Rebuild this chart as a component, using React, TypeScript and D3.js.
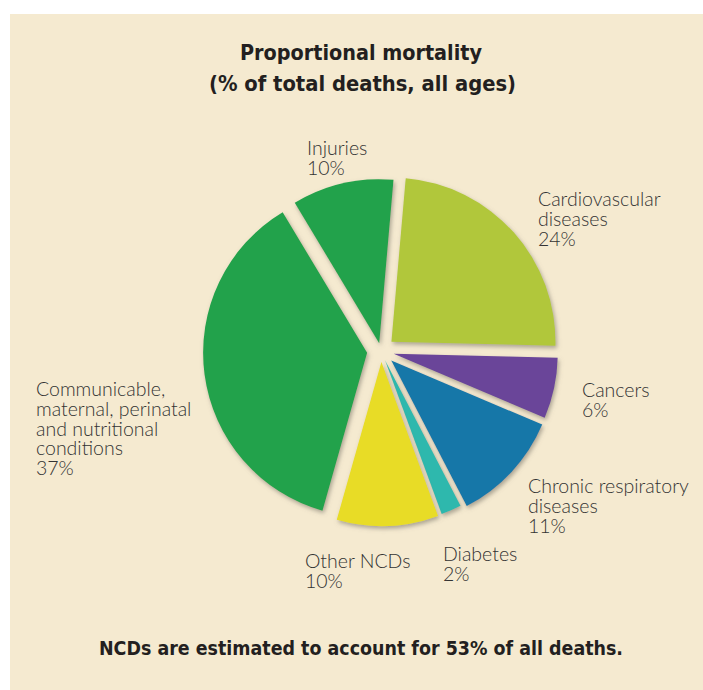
import React from "react";
import * as d3 from "d3";

const categories = [
  "Cardiovascular diseases",
  "Cancers",
  "Chronic respiratory diseases",
  "Diabetes",
  "Other NCDs",
  "Communicable, maternal, perinatal and nutritional conditions",
  "Injuries",
];
const values = [24, 6, 11, 2, 10, 37, 10];
const labelLines = [
  ["Cardiovascular", "diseases", "24%"],
  ["Cancers", "6%"],
  ["Chronic respiratory", "diseases", "11%"],
  ["Diabetes", "2%"],
  ["Other NCDs", "10%"],
  ["Communicable,", "maternal, perinatal", "and nutritional", "conditions", "37%"],
  ["Injuries", "10%"],
];
const titleLines = ["Proportional mortality", "(% of total deaths, all ages)"];
const footer = "NCDs are estimated to account for 53% of all deaths.";

// styles
const colors = ["#b1c73b", "#6a4499", "#1677a8", "#2fb8ad", "#e8dc25", "#23a24b", "#23a24b"];
const explode = [14, 13, 14, 10, 11, 14, 8];
const labelPos: [number, number][] = [
  [538, 206],
  [582, 397],
  [528, 493],
  [443, 561],
  [305, 568],
  [36, 396],
  [307, 155],
];

const W = 703;
const H = 690;
const CX = 381;
const CY = 351;
const R = 164;

export default function App() {
  const start = (5 * Math.PI) / 180;
  const pie = d3
    .pie<number>()
    .sort(null)
    .value((d) => d)
    .startAngle(start)
    .endAngle(start + 2 * Math.PI);
  const arcs = pie(values);
  const arc = d3.arc<d3.PieArcDatum<number>>().innerRadius(0).outerRadius(R);

  return (
    <svg
      width={W}
      height={H}
      style={{ position: "absolute", left: 0, top: 0, background: "#ffffff" }}
    >
      <defs>
        <filter id="sh" x="-20%" y="-20%" width="140%" height="140%">
          <feDropShadow dx="1.5" dy="2.5" stdDeviation="2.2" floodColor="#6e6a5e" floodOpacity="0.55" />
        </filter>
      </defs>
      <rect x={10} y={14} width={W - 10} height={H - 14} fill="#f5ead0" />
      <g
        fontFamily="'DejaVu Sans Condensed', 'Liberation Sans Narrow', Arial, sans-serif"
        fontWeight="bold"
        fill="#231f20"
      >
        <text x={240} y={60} fontSize={22} textLength={242} lengthAdjust="spacingAndGlyphs">
          {titleLines[0]}
        </text>
        <text x={209} y={91} fontSize={22} textLength={307} lengthAdjust="spacingAndGlyphs">
          {titleLines[1]}
        </text>
        <text x={99} y={655} fontSize={19} textLength={524} lengthAdjust="spacingAndGlyphs">
          {footer}
        </text>
      </g>
      <g transform={`translate(${CX},${CY})`}>
        {arcs.map((a, i) => {
          const mid = (a.startAngle + a.endAngle) / 2;
          const dx = Math.sin(mid) * explode[i];
          const dy = -Math.cos(mid) * explode[i];
          return (
            <path
              key={categories[i]}
              d={arc(a) || ""}
              transform={`translate(${dx},${dy})`}
              fill={colors[i]}
              filter="url(#sh)"
            />
          );
        })}
      </g>
      <g fontFamily="Lato, 'Open Sans', sans-serif" fontWeight={300} fontSize={19.5} fill="#333333">
        {labelLines.map((lines, i) =>
          lines.map((l, j) => (
            <text key={categories[i] + j} x={labelPos[i][0]} y={labelPos[i][1] + j * 19.8}>
              {l}
            </text>
          ))
        )}
      </g>
    </svg>
  );
}
